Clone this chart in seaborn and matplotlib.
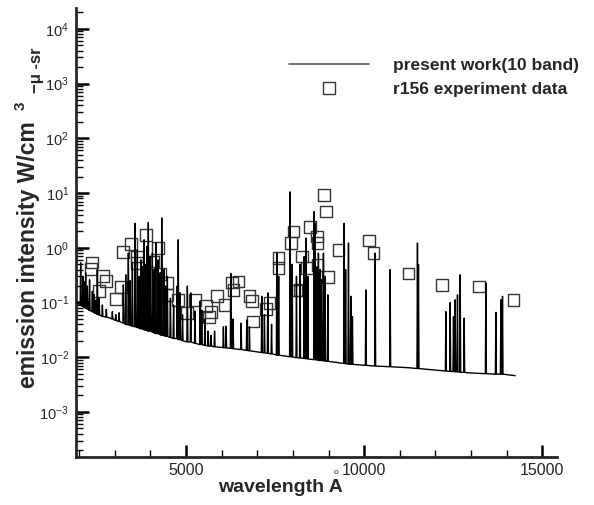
import seaborn as sns
import pandas as pd
import matplotlib.pyplot as plt
from matplotlib.lines import Line2D
from matplotlib.ticker import LogLocator, MultipleLocator, NullFormatter

# r156 experiment data (wavelength in A, intensity)
exp_wl = [2323, 2368, 2556, 2677, 2744, 3034, 3166, 3239, 3447, 3632, 3632, 3876,
          4081, 4222, 4270, 4458, 4475, 4784, 5020, 5253, 5553, 5646, 5694, 5879,
          6076, 6284, 6329, 6469, 6778, 6846, 6874, 7239, 7340, 7593, 7593, 7941,
          8014, 8081, 8202, 8250, 8390, 8483, 8671, 8688, 8688, 8876, 8933, 8980,
          9278, 10140, 10261, 11244, 12183, 13230, 14194]
exp_val = [0.41, 0.54, 0.164, 0.30, 0.25, 0.117, 0.19, 0.83, 1.18, 0.69, 0.52, 1.73,
           0.56, 0.99, 0.33, 0.138, 0.226, 0.112, 0.064, 0.112, 0.087, 0.055, 0.068, 0.133,
           0.091, 0.232, 0.171, 0.242, 0.133, 0.105, 0.045, 0.076, 0.098, 0.65, 0.43, 1.22,
           1.99, 0.166, 0.17, 0.69, 0.43, 2.39, 1.61, 1.22, 0.49, 9.3, 4.6, 0.29,
           0.92, 1.36, 0.80, 0.34, 0.21, 0.196, 0.112]

# present work (10 band): continuum points
base_wl = [1930, 2865, 3800, 4739, 5674, 6601, 7548, 9233, 11292, 12885, 14240]
base_val = [0.100, 0.052, 0.032, 0.022, 0.016, 0.0137, 0.011, 0.008, 0.0064, 0.0052, 0.0046]

# present work (10 band): line peaks and the continuum under them
spike_wl = [2040, 2100, 2135, 2180, 2228, 2290, 2368, 2420, 2463, 2508, 2560, 2650,
            2760, 2930, 3025, 3118, 3239, 3306, 3379, 3430, 3492, 3567, 3632, 3680,
            3728, 3780, 3820, 3870, 3896, 3940, 3990, 4053, 4100, 4149, 4213, 4270,
            4317, 4382, 4430, 4475, 4560, 4650, 4750, 4780, 4830, 4900, 5036, 5132,
            5250, 5393, 5440, 5530, 5620, 5700, 5800, 6048, 6124, 6256, 6320, 6545,
            6705, 6778, 7126, 7200, 7295, 7400, 7548, 7600, 7920, 7980, 8100, 8200,
            8315, 8371, 8420, 8596, 8624, 8680, 8716, 8764, 8800, 8857, 8900, 8980,
            9438, 9480, 9560, 9626, 9671, 10048, 10309, 10730, 11497, 11525, 12295, 12416,
            12509, 12556, 12621, 12697, 12809, 13418, 13699, 13840, 13885]
spike_peak = [0.53, 0.30, 0.24, 0.35, 0.20, 0.26, 0.16, 0.14, 0.11, 0.40, 0.12, 0.09,
              0.075, 0.068, 0.060, 0.065, 0.21, 0.32, 0.80, 0.25, 0.53, 2.8, 0.92, 0.30,
              0.60, 0.45, 1.4, 0.50, 1.06, 2.9, 0.70, 0.80, 0.40, 1.22, 0.60, 0.35,
              3.5, 0.40, 0.20, 0.30, 0.12, 0.09, 0.20, 1.4, 0.15, 0.06, 0.20, 0.15,
              0.07, 0.105, 0.073, 0.05, 0.03, 0.025, 0.03, 0.036, 0.037, 0.34, 0.05, 0.042,
              0.048, 0.036, 0.13, 0.06, 0.15, 0.04, 0.80, 0.30, 10.5, 0.50, 0.30, 0.50,
              0.69, 1.5, 0.30, 4.6, 2.8, 0.45, 0.80, 0.40, 0.26, 0.80, 0.30, 0.138,
              2.8, 0.40, 1.22, 0.13, 0.055, 0.17, 0.80, 0.40, 1.22, 0.49, 0.068, 0.10,
              0.055, 0.112, 0.138, 0.32, 0.052, 0.226, 0.066, 0.112, 0.13]
spike_base = [0.090, 0.085, 0.082, 0.079, 0.076, 0.072, 0.068, 0.065, 0.063, 0.061, 0.059, 0.056,
              0.054, 0.050, 0.047, 0.045, 0.042, 0.040, 0.039, 0.038, 0.037, 0.036, 0.035, 0.034,
              0.033, 0.033, 0.032, 0.031, 0.031, 0.030, 0.030, 0.029, 0.028, 0.027, 0.027, 0.026,
              0.025, 0.025, 0.024, 0.024, 0.023, 0.022, 0.022, 0.021, 0.021, 0.020, 0.019, 0.019,
              0.018, 0.017, 0.017, 0.0165, 0.016, 0.016, 0.0155, 0.0150, 0.0148, 0.0145, 0.0143, 0.0138,
              0.0133, 0.0131, 0.0122, 0.0120, 0.0118, 0.0115, 0.0110, 0.0109, 0.0102, 0.0101, 0.0098, 0.0097,
              0.0095, 0.0094, 0.0093, 0.0090, 0.0090, 0.0089, 0.0088, 0.0087, 0.0087, 0.0086, 0.0085, 0.0084,
              0.0077, 0.0076, 0.0075, 0.0074, 0.0074, 0.0071, 0.0069, 0.0067, 0.0062, 0.0062, 0.0056, 0.0055,
              0.0055, 0.0054, 0.0054, 0.0053, 0.0053, 0.0050, 0.0049, 0.0049, 0.0049]

# build the spectrum path in wavelength order
events = [(w, 'b', v, v) for w, v in zip(base_wl, base_val)]
events += [(w, 's', p, b) for w, p, b in zip(spike_wl, spike_peak, spike_base)]
events.sort(key=lambda e: e[0])
half = 14
px, py = [], []
for w, kind, top, foot in events:
    if kind == 'b':
        px.append(w); py.append(top)
    else:
        px += [w - half, w, w + half]
        py += [foot, top, foot]
spec = pd.DataFrame({'wl': px, 'val': py})

sns.set_theme(style="ticks")
plt.rcParams['font.family'] = ['Liberation Sans', 'DejaVu Sans']
plt.rcParams['mathtext.fontset'] = 'custom'
plt.rcParams['mathtext.rm'] = 'Liberation Sans'
plt.rcParams['mathtext.it'] = 'Liberation Sans:italic'
plt.rcParams['mathtext.bf'] = 'Liberation Sans:bold'

fig = plt.figure(figsize=(5.94, 5.05), dpi=100)
ax = fig.add_axes([0.128, 0.095, 0.81, 0.889])

sns.scatterplot(x=exp_wl, y=exp_val, marker='s', s=72, facecolor='none',
                edgecolor='#333333', linewidth=1.0, ax=ax, zorder=2)
sns.lineplot(data=spec, x='wl', y='val', sort=False, estimator=None,
             color='black', linewidth=1.0, ax=ax, zorder=3)

ax.set_yscale('log')
ax.set_xlim(1910, 15420)
ax.set_ylim(1.5e-4, 2.4e4)
ax.xaxis.set_major_locator(MultipleLocator(5000))
ax.xaxis.set_minor_locator(MultipleLocator(1000))
ax.yaxis.set_major_locator(LogLocator(base=10, numticks=20))
ax.yaxis.set_minor_locator(LogLocator(base=10, subs=range(2, 10), numticks=20))
ax.yaxis.set_minor_formatter(NullFormatter())

sns.despine(ax=ax)
for s in ['left', 'bottom']:
    ax.spines[s].set_linewidth(2.0)
ax.tick_params(which='major', direction='in', length=9, width=1.8, color='black')
ax.tick_params(which='minor', direction='in', length=5, width=1.0, color='black')
ax.tick_params(axis='x', which='major', labelsize=11.5, pad=4)
ax.tick_params(axis='y', which='major', labelsize=10.5, pad=5)

ax.set_xlabel('wavelength A', fontsize=14, fontweight='bold', va='center')
ax.xaxis.set_label_coords(0.426, -0.067)
ax.set_ylabel('emission intensity W/cm', fontsize=16.5, fontweight='bold', va='center')
ax.yaxis.set_label_coords(-0.098, 0.45)
fig.text(336 / 594, 1 - 472 / 505, 'o', fontsize=6, ha='center', va='center')
fig.text(21 / 594, 1 - 106 / 505, '3', fontsize=11, fontweight='bold',
         rotation=90, ha='center', va='center')
fig.text(36 / 594, 1 - 70 / 505, '\u2212\u03bc -sr', fontsize=12, fontweight='bold',
         rotation=90, ha='center', va='center')

handles = [Line2D([], [], color='#555555', linewidth=1.2),
           Line2D([], [], color='none', marker='s', markersize=8, markerfacecolor='none',
                  markeredgecolor='#333333', markeredgewidth=1.0)]
ax.legend(handles, ['present work(10 band)', 'r156 experiment data'],
          loc='upper left', bbox_to_anchor=(289 / 594, 1 - 58 / 505),
          bbox_transform=fig.transFigure, frameon=False, borderpad=0, borderaxespad=0,
          handlelength=4.6, handletextpad=1.4, labelspacing=0.5,
          prop={'weight': 'bold', 'size': 12.5})

plt.savefig('out.png', dpi=100)
